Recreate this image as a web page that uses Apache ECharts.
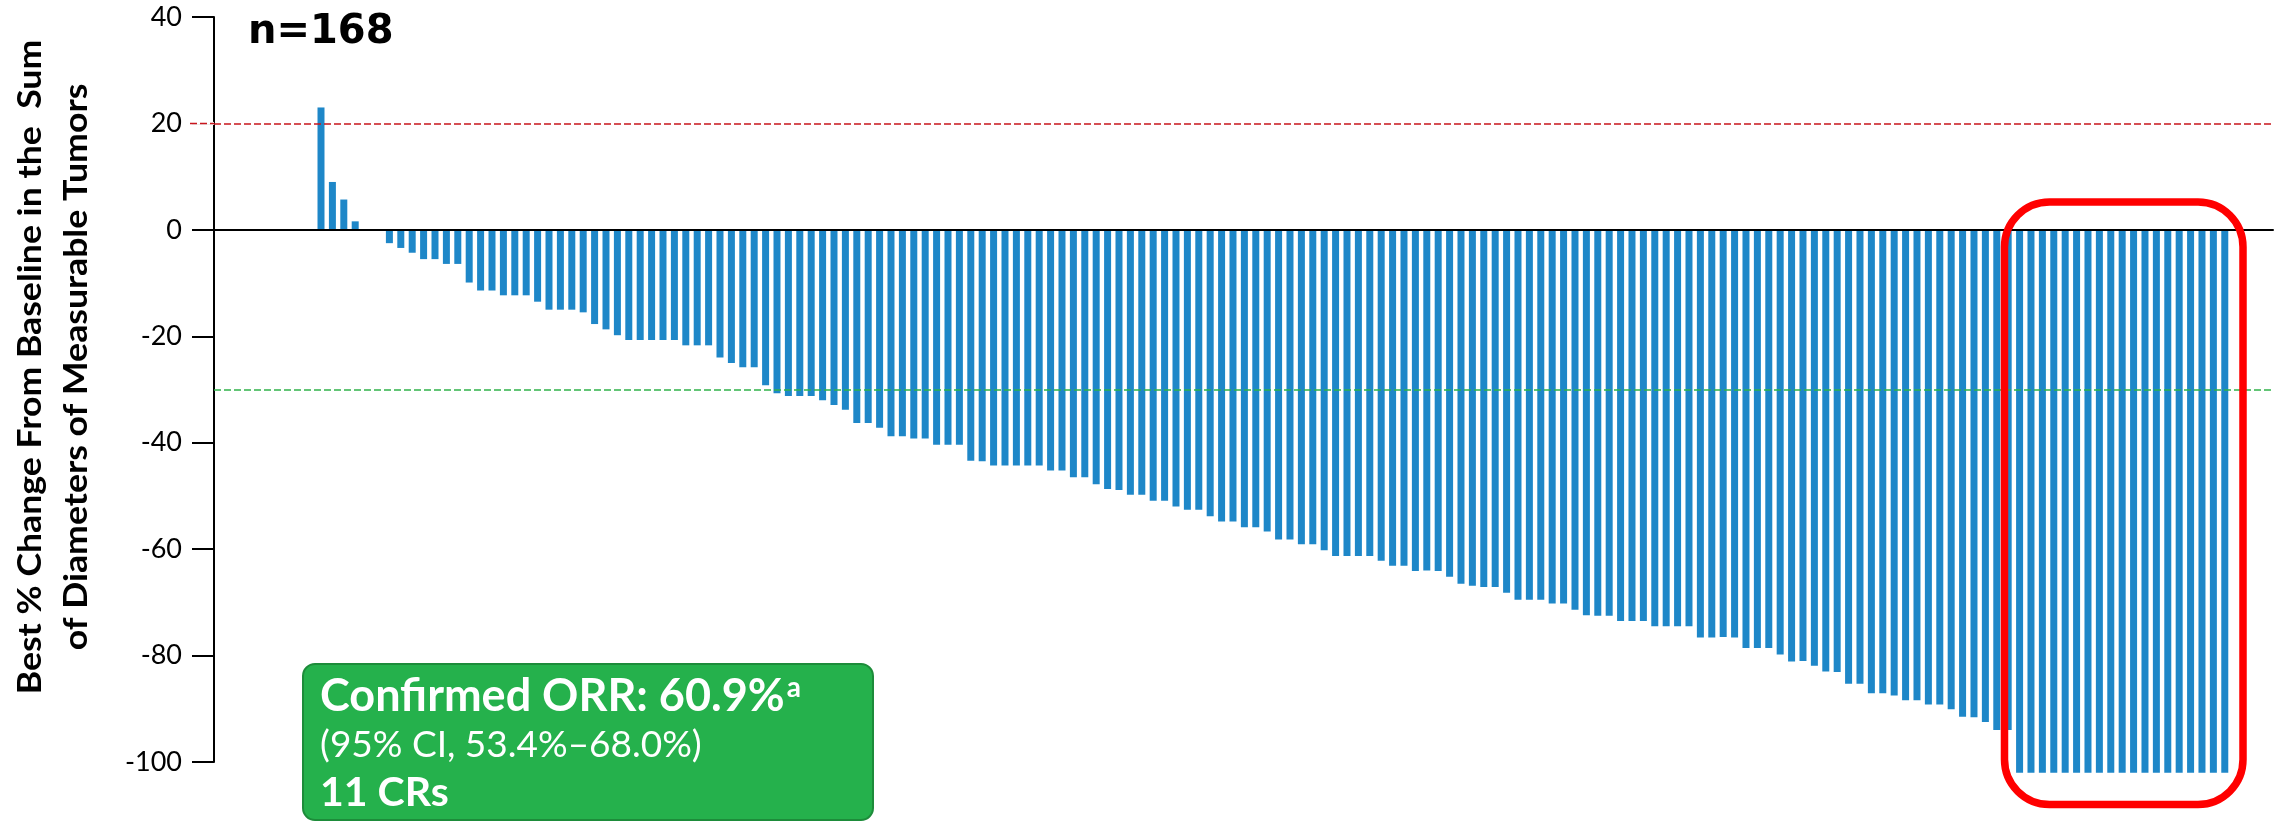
<!DOCTYPE html>
<html>
<head>
<meta charset="utf-8">
<script src="https://cdn.jsdelivr.net/npm/echarts@6/dist/echarts.min.js"></script>
<style>
  html, body { margin: 0; padding: 0; background: #fff; }
  #main { width: 2282px; height: 822px; }
</style>
</head>
<body>
<div id="main"></div>
<script>
// best % change per patient, sorted (n=168)
var bestChange = [
  23, 9, 5.7, 1.6, 0, 0, -2.5, -3.4, -4.3, -5.5,
  -5.5, -6.4, -6.4, -9.9, -11.4, -11.4, -12.3, -12.3, -12.3, -13.5,
  -15, -15, -15, -15.5, -17.7, -18.7, -19.8, -20.7, -20.7, -20.7,
  -20.7, -20.7, -21.7, -21.7, -21.7, -24, -25, -25.8, -25.8, -29.2,
  -30.7, -31.2, -31.2, -31.2, -32, -32.9, -33.8, -36.3, -36.3, -37.2,
  -38.8, -38.8, -39.2, -39.2, -40.4, -40.4, -40.4, -43.4, -43.5, -44.3,
  -44.3, -44.3, -44.3, -44.3, -45.2, -45.2, -46.5, -46.5, -47.8, -48.7,
  -48.9, -49.8, -49.8, -50.9, -50.9, -52, -52.6, -52.6, -53.8, -54.8,
  -54.8, -55.9, -55.9, -56.7, -58.2, -58.2, -59.1, -59.1, -60.2, -61.3,
  -61.3, -61.3, -61.3, -62.2, -63.1, -63.1, -64.1, -64, -64.1, -65.2,
  -66.5, -66.9, -67.1, -67.1, -68.2, -69.5, -69.5, -69.5, -70.2, -70.2,
  -71.4, -72.4, -72.5, -72.5, -73.5, -73.5, -73.5, -74.5, -74.5, -74.5,
  -74.5, -76.6, -76.6, -76.5, -76.6, -78.6, -78.6, -78.6, -79.8, -81.1,
  -81, -81.9, -83, -83.1, -85.3, -85.3, -87.1, -87.1, -87.5, -88.4,
  -88.4, -89.2, -89.2, -90.1, -91.5, -91.6, -92.5, -94, -94, -102,
  -102, -102, -102, -102, -102, -102, -102, -102, -102, -102,
  -102, -102, -102, -102, -102, -102, -102, -102
];
var progressionLine = 20;   // PD threshold
var responseLine = -30;     // PR threshold
var yTicks = { min: -100, max: 40, step: 20 };

var yTitle = ['Best % Change From Baseline in the  Sum', 'of Diameters of Measurable Tumors'];
var nLabel = 'n=168';
var orrLines = ['Confirmed ORR: 60.9%', '(95% CI, 53.4%\u201368.0%)', '11 CRs'];

var barData = bestChange.map(function (v, i) { return [i + 1, v]; });

var gridTop = 17, gridBottom = 60, gridLeft = 214;
var plotH = 822 - gridTop - gridBottom;
// the red PD line also runs across the tick, left of the axis
var pdY = gridTop + (yTicks.max - progressionLine) / (yTicks.max - yTicks.min) * plotH;

var chart = echarts.init(document.getElementById('main'));
var option = {
  animation: false,
  grid: { left: gridLeft, right: 9, top: gridTop, bottom: gridBottom },
  xAxis: {
    type: 'value',
    min: -8.386,
    max: 172.23,
    z: 3,
    axisLine: { onZero: true, lineStyle: { color: '#000', width: 2 } },
    axisTick: { show: false },
    axisLabel: { show: false },
    splitLine: { show: false }
  },
  yAxis: {
    type: 'value',
    min: yTicks.min,
    max: yTicks.max,
    interval: yTicks.step,
    axisLine: { show: true, onZero: false, lineStyle: { color: '#000', width: 2 } },
    axisTick: { show: true, length: 22, lineStyle: { color: '#000', width: 2 } },
    axisLabel: { margin: 32, fontFamily: 'Lato', fontSize: 27, color: '#000' },
    splitLine: { show: false }
  },
  series: [
    {
      type: 'bar',
      data: barData,
      barWidth: 7,
      clip: false,
      itemStyle: { color: '#1e87c8' }
    },
    {
      type: 'line',
      data: [],
      z: 4,
      markLine: {
        silent: true,
        symbol: 'none',
        label: { show: false },
        data: [
          { yAxis: progressionLine, lineStyle: { color: '#c8161d', type: [7, 3], width: 1.5 } },
          { yAxis: responseLine, lineStyle: { color: '#2fb24a', type: [7, 3], width: 1.5 } }
        ]
      }
    }
  ],
  graphic: [
    {
      type: 'text', x: 30, y: 367, rotation: Math.PI / 2, scaleX: 1.08,
      style: { text: yTitle[0], x: 0, y: 0, align: 'center', verticalAlign: 'middle', textAlign: 'center', textVerticalAlign: 'middle',
        fontFamily: 'Lato', fontWeight: 'bold', fontSize: 33, fill: '#000' }
    },
    {
      type: 'text', x: 76, y: 367, rotation: Math.PI / 2, scaleX: 1.08,
      style: { text: yTitle[1], x: 0, y: 0, align: 'center', verticalAlign: 'middle', textAlign: 'center', textVerticalAlign: 'middle',
        fontFamily: 'Lato', fontWeight: 'bold', fontSize: 33, fill: '#000' }
    },
    {
      type: 'text', x: 248, y: 33,
      style: { text: nLabel, verticalAlign: 'middle', textVerticalAlign: 'middle',
        fontFamily: 'DejaVu Sans', fontWeight: 'bold', fontSize: 40, fill: '#000' }
    },
    {
      type: 'line', z: 5,
      shape: { x1: 190, y1: pdY, x2: gridLeft, y2: pdY },
      style: { stroke: '#fff', lineWidth: 3 }
    },
    {
      type: 'line', z: 6,
      shape: { x1: 190, y1: pdY, x2: gridLeft, y2: pdY },
      style: { stroke: '#c8161d', lineWidth: 1.5, lineDash: [7, 3] }
    },
    {
      type: 'rect', z: 10,
      shape: { x: 303, y: 664, width: 570, height: 156, r: 12 },
      style: { fill: '#25b14c', stroke: '#1d8c3a', lineWidth: 2 }
    },
    {
      type: 'text', z: 11, x: 320, y: 696,
      style: {
        text: '{m|' + orrLines[0] + '}{s|a}',
        verticalAlign: 'middle', textVerticalAlign: 'middle',
        rich: {
          m: { fontFamily: 'Lato', fontWeight: 'bold', fontSize: 45, fill: '#fff', color: '#fff' },
          s: { fontFamily: 'Lato', fontWeight: 'bold', fontSize: 28, fill: '#fff', color: '#fff', verticalAlign: 'top', padding: [0, 0, 0, 2] }
        }
      }
    },
    {
      type: 'text', z: 11, x: 320, y: 745,
      style: { text: orrLines[1], verticalAlign: 'middle', textVerticalAlign: 'middle',
        fontFamily: 'Lato', fontSize: 37, fill: '#fff' }
    },
    {
      type: 'text', z: 11, x: 320, y: 793,
      style: { text: orrLines[2], verticalAlign: 'middle', textVerticalAlign: 'middle',
        fontFamily: 'Lato', fontWeight: 'bold', fontSize: 41, fill: '#fff' }
    },
    {
      // CR highlight
      type: 'rect', z: 10,
      shape: { x: 2004.5, y: 202, width: 238.5, height: 602.5, r: 45 },
      style: { fill: 'none', stroke: '#ff0000', lineWidth: 7.5 }
    }
  ]
};
chart.setOption(option);
</script>
</body>
</html>
